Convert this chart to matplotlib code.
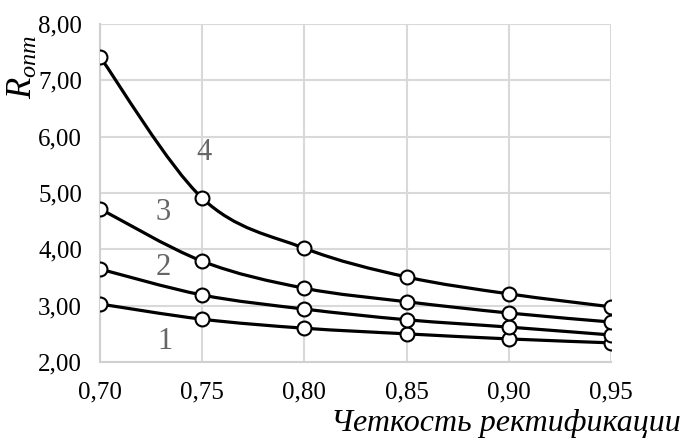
import numpy as np
import matplotlib
matplotlib.use("Agg")
import matplotlib.pyplot as plt
from matplotlib.path import Path
from matplotlib.patches import PathPatch
from matplotlib.ticker import FuncFormatter, MultipleLocator

plt.rcParams['font.family'] = ['Liberation Serif', 'DejaVu Serif']
plt.rcParams['mathtext.fontset'] = 'custom'
plt.rcParams['mathtext.rm'] = 'Liberation Serif'
plt.rcParams['mathtext.it'] = 'Liberation Serif:italic'

# chetkost rektifikatsii
x = [0.70, 0.75, 0.80, 0.85, 0.90, 0.95]
r1 = [3.03, 2.76, 2.60, 2.50, 2.41, 2.34]
r2 = [3.65, 3.19, 2.94, 2.75, 2.62, 2.48]
r3 = [4.72, 3.79, 3.31, 3.07, 2.87, 2.71]
r4 = [7.42, 4.91, 4.02, 3.51, 3.21, 2.98]
series = [r1, r2, r3, r4]
labels = ["1", "2", "3", "4"]
label_pos = [(0.732, 2.36), (0.731, 3.67), (0.731, 4.65), (0.751, 5.72)]


def smooth_path(xs, ys, t=1/6):
    # Excel-like smoothed line: cubic bezier through the points
    px = np.asarray(xs, float)
    py = np.asarray(ys, float)
    verts = [(px[0], py[0])]
    codes = [Path.MOVETO]
    n = len(px)
    for i in range(n - 1):
        i0 = max(i - 1, 0)
        i3 = min(i + 2, n - 1)
        c1 = (px[i] + (px[i + 1] - px[i0]) * t, py[i] + (py[i + 1] - py[i0]) * t)
        c2 = (px[i + 1] - (px[i3] - px[i]) * t, py[i + 1] - (py[i3] - py[i]) * t)
        verts += [c1, c2, (px[i + 1], py[i + 1])]
        codes += [Path.CURVE4] * 3
    return Path(verts, codes)


fig = plt.figure(figsize=(6.91, 4.38), dpi=100)
ax = fig.add_axes([0.1447, 0.1735, 0.7395, 0.7715])

for ys in series:
    ax.add_patch(PathPatch(smooth_path(x, ys), facecolor='none',
                           edgecolor='black', lw=2.3, zorder=3))
    ax.plot(x, ys, ls='none', marker='o', ms=10, mfc='white', mec='black',
            mew=1.5, zorder=4)

for lab, (lx, ly) in zip(labels, label_pos):
    ax.text(lx, ly, lab, fontsize=22, color='#666666', ha='center', va='center')

ax.set_xlim(0.70, 0.95)
ax.set_ylim(2.0, 8.0)
ax.xaxis.set_major_locator(MultipleLocator(0.05))
ax.yaxis.set_major_locator(MultipleLocator(1.0))
ax.xaxis.set_major_formatter(FuncFormatter(lambda v, p: f"{v:.2f}".replace('.', ',')))
ax.yaxis.set_major_formatter(FuncFormatter(lambda v, p: f"{v:.2f}".replace('.', ',')))
ax.grid(True, color='#d9d9d9', lw=1.5)
ax.set_axisbelow(True)
for s in ['top', 'right']:
    ax.spines[s].set_visible(False)
for s in ['left', 'bottom']:
    ax.spines[s].set_color('#d0d0d0')
    ax.spines[s].set_linewidth(1.5)
ax.tick_params(axis='y', length=0, labelsize=18, pad=13)
ax.tick_params(axis='x', length=0, labelsize=18, pad=14)

fig.text(681 / 691, 1 - 423 / 438, "Четкость ректификации", fontsize=23,
         style='italic', ha='right', va='center')
fig.text(23 / 691, 1 - 67 / 438, r"$R_{опт}$", fontsize=25, rotation=90,
         ha='center', va='center')

fig.savefig("out.png", dpi=100)
